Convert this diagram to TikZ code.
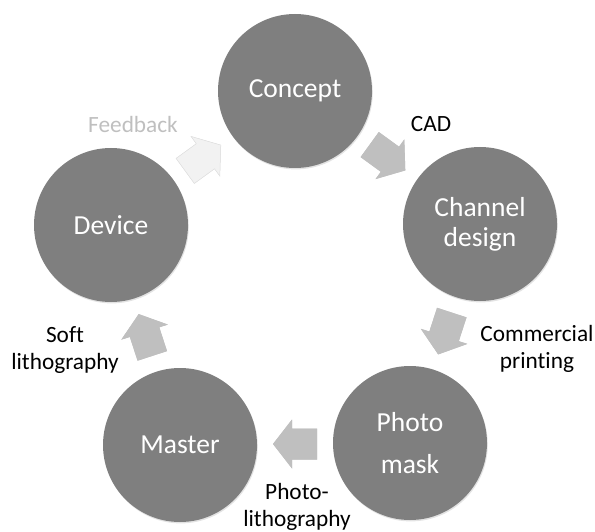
\documentclass[tikz,border=0pt]{standalone}
\usepackage{fontspec}
\setmainfont[Ligatures=NoCommon]{Carlito}
\usetikzlibrary{calc,shadows}

\definecolor{stagegray}{HTML}{7F7F7F}
\definecolor{arrowgray}{HTML}{BFBFBF}
\definecolor{feedbackfill}{HTML}{F2F2F2}
\definecolor{feedbacktext}{HTML}{BFBFBF}

% block arrow between two stages: #1 position, #2 direction, #3 fill style
\newcommand{\cyclearrow}[3]{%
  \begin{scope}[shift={(1.3pt,-1.6pt)}]
    \pic[rotate=#2] at (#1) {arrowbody={fill=black,opacity=0.22}};
  \end{scope}
  \pic[rotate=#2] at (#1) {arrowbody=#3};
}

\begin{document}
\begin{tikzpicture}[x=1pt,y=-1pt,
  stage/.style={circle, fill=stagegray, minimum size=154pt, inner sep=0pt,
    text=white, align=center, font=\fontsize{27.5}{30}\selectfont,
    drop shadow={opacity=0.22, shadow xshift=0.8pt, shadow yshift=-1.4pt}},
  steplabel/.style={align=center, text=black, inner sep=0pt,
    font=\fontsize{23.3}{27.5}\selectfont},
  flowarrow/.style={fill=arrowgray},
  backarrow/.style={fill=feedbackfill, draw=black!12, line width=0.5pt},
  arrowbody/.pic={\path[#1] (-22,-15.5) -- (3,-15.5) -- (3,-24.5) -- (22,0)
      -- (3,24.5) -- (3,15.5) -- (-22,15.5) -- cycle;}
]
\useasboundingbox (0,0) rectangle (595,532);

% stages of the cycle
\node[stage] (concept) at (295,91) {Concept};
\node[stage] (channel) at (480,224) {Channel\\design};
\node[stage, font=\fontsize{27.5}{42}\selectfont] (mask) at (410,443) {Photo\\mask};
\node[stage] (master) at (180,445) {Master};
\node[stage] (device) at (111,225) {Device};

% arrows between consecutive stages
\cyclearrow{$(concept)!0.5!(channel)$}{-36}{flowarrow}
\cyclearrow{$(channel)!0.5!(mask)$}{-108}{flowarrow}
\cyclearrow{$(mask)!0.5!(master)$}{180}{flowarrow}
\cyclearrow{$(master)!0.5!(device)$}{108}{flowarrow}
\cyclearrow{$(device)!0.5!(concept)$}{36}{backarrow}

% process labels
\node[steplabel] (cad) at (431,124) {CAD};
\node[steplabel] (printing) at (537,349) {Commercial\\printing};
\node[steplabel] (photolitho) at (297,507) {Photo-\\lithography};
\node[steplabel] (softlitho) at (65,350) {Soft\\lithography};
\node[steplabel, text=feedbacktext] (feedback) at (133,124) {Feedback};
\end{tikzpicture}
\end{document}
